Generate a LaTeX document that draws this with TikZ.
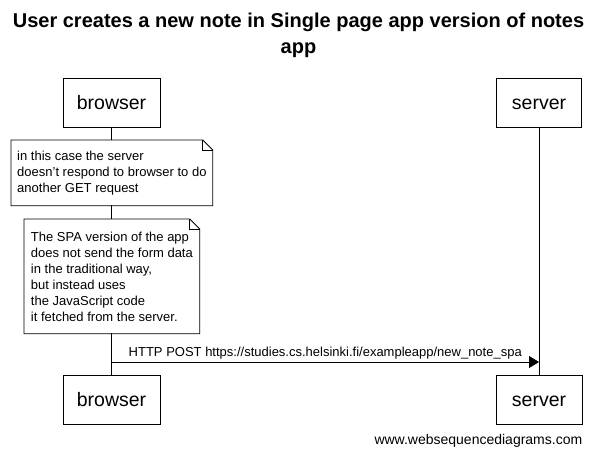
\documentclass[tikz,border=0pt]{standalone}
\usepackage{fontspec}
\setmainfont{Liberation Sans}
\usetikzlibrary{arrows.meta}
\usetikzlibrary{positioning}
\usetikzlibrary{calc}

\begin{document}
\begin{tikzpicture}[x=1pt,y=-1pt,>={Triangle[length=10pt,width=12pt]},line width=0.8pt]

    % Define styles
    \tikzset{
      actor/.style={draw,fill=white,minimum height=49pt,text height=16pt,text depth=3pt,
        font=\fontsize{19.5}{22}\selectfont},
      note/.style={fill=white,align=left,inner sep=0pt,font=\fontsize{13}{16}\selectfont},
      notetext/.style={font=\fontsize{13}{16}\selectfont}
    }
    \def\fold{10}   % Dog-ear size of the notes

    \useasboundingbox (0,0) rectangle (597,458);

    % Title
    \node[align=center,font=\fontsize{20}{26}\selectfont\bfseries] (title) at (298.5,35)
      {User creates a new note in Single page app version of notes\\app};

    % Actors top and bottom
    \node[actor,minimum width=97pt] (browserTop) at (111.5,102.5) {browser};
    \node[actor,minimum width=85pt] (serverTop) at (539,102.5) {server};
    \node[actor,minimum width=97pt] (browserBot) at (111.5,399.5) {browser};
    \node[actor,minimum width=86pt] (serverBot) at (539,399.5) {server};

    % Lifelines
    \draw (browserTop.south) -- (browserBot.north);
    \draw (serverTop.south) -- (serverBot.north);

    % Notes
    \node[note,anchor=north west,minimum width=201pt,minimum height=65pt] (noteA) at (11,140)
      {in this case the server\\doesn't respond to browser to do\\another GET request};
    \node[note,anchor=north west,minimum width=175pt,minimum height=114pt] (noteB) at (24,219)
      {The SPA version of the app\\does not send the form data\\in the traditional way,\\but instead uses\\the JavaScript code\\it fetched from the server.};
    \foreach \n in {noteA,noteB} {
      \draw (\n.south west) -- (\n.north west) -- ([xshift=-\fold pt]\n.north east)
        -- ([yshift=-\fold pt]\n.north east) -- (\n.south east) -- cycle;
      \draw ([xshift=-\fold pt]\n.north east) -- ([xshift=-\fold pt,yshift=-\fold pt]\n.north east)
        -- ([yshift=-\fold pt]\n.north east);
    }

    % Message
    \coordinate (postFrom) at (browserTop.south |- 0,362);
    \coordinate (postTo) at (serverTop.south |- 0,362);
    \draw[->] (postFrom) -- node[notetext,above,yshift=-1pt] {HTTP POST https://studies.cs.helsinki.fi/exampleapp/new\_note\_spa} (postTo);

    % Watermark
    \node[font=\fontsize{14}{16}\selectfont,anchor=east] (mark) at (586,441) {www.websequencediagrams.com};

\end{tikzpicture}
\end{document}
